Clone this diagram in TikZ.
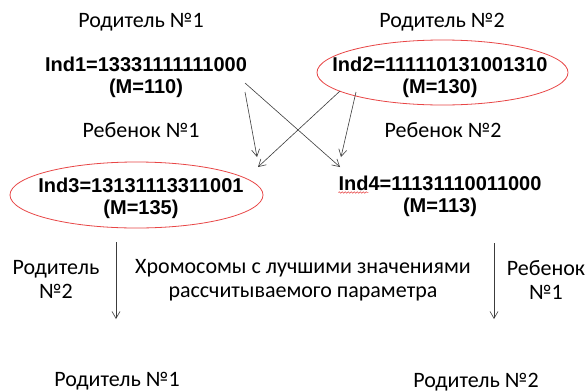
\documentclass[tikz,border=0pt]{standalone}
\usepackage{fontspec}
\setmainfont{Carlito}
\newfontfamily\indfont{Liberation Sans}
\usetikzlibrary{arrows.meta,calc,decorations.pathmorphing}
\definecolor{ovalred}{RGB}{232,70,70}
\definecolor{linegray}{RGB}{60,60,60}
\tikzset{
  lbl/.style={inner sep=0pt, align=center, font=\fontsize{22}{24}\selectfont},
  ind/.style={inner sep=0pt, align=center, font=\indfont\bfseries\fontsize{20}{22}\selectfont},
  oval/.style={draw=ovalred, line width=0.8pt},
  cross/.style={draw=linegray, line width=0.6pt, -{Straight Barb[length=7pt,width=8pt]}},
}
\begin{document}
\begin{tikzpicture}[x=1pt,y=-1pt]
\useasboundingbox[fill=white] (0,0) rectangle (585,391);

% parents
\node[lbl] (p1) at (141,22) {Родитель №1};
\node[lbl] (p2) at (442,22) {Родитель №2};
\node[ind] (ind1) at (146,77) {Ind1=13331111111000\\(M=110)};
\node[ind] (ind2) at (440,77) {Ind2=111110131001310\\(M=130)};
\draw[oval] ($(ind2)+(2.5,-4.5)$) ellipse [x radius=125.5pt, y radius=32.5pt];

% children
\node[lbl] (c1) at (141,130) {Ребенок №1};
\node[lbl] (c2) at (443,130) {Ребенок №2};
\node[ind] (ind3) at (141,198) {Ind3=13131113311001\\(M=135)};
\draw[oval] ($(ind3)+(-4.5,-3)$) ellipse [x radius=126.5pt, y radius=33pt];
\node[ind] (ind4) at (440,196) {Ind4=11131110011000\\(M=113)};
\draw[ovalred, line width=0.5pt, decorate,
      decoration={snake, amplitude=0.7pt, segment length=3pt}]
  ($(ind4.north west)+(0,17)$) -- ++(30,0);

% crossover arrows
\coordinate (a1) at (245,92);  \coordinate (a2) at (257,157);
\coordinate (b1) at (245,83);  \coordinate (b2) at (340,167);
\coordinate (c1s) at (340,91); \coordinate (c2e) at (258,167);
\coordinate (d1) at (356,92);  \coordinate (d2) at (341,157);
\draw[cross] (a1) -- (a2);
\draw[cross] (b1) -- (b2);
\draw[cross] (c1s) -- (c2e);
\draw[cross] (d1) -- (d2);

% selection row
\node[lbl] (lp) at (56,279) {Родитель\\№2};
\node[lbl] (mid) at (303,280) {Хромосомы с лучшими значениями\\рассчитываемого параметра};
\node[lbl] (rc) at (546,280) {Ребенок\\№1};
\coordinate (la1) at (116,242); \coordinate (la2) at (116,319);
\coordinate (ra1) at (494,243); \coordinate (ra2) at (494,319);
\draw[cross] (la1) -- (la2);
\draw[cross] (ra1) -- (ra2);

% next generation
\node[lbl, anchor=base] (n1) at (117,386.5) {Родитель №1};
\node[lbl, anchor=base] (n2) at (476,387) {Родитель №2};
\end{tikzpicture}
\end{document}
